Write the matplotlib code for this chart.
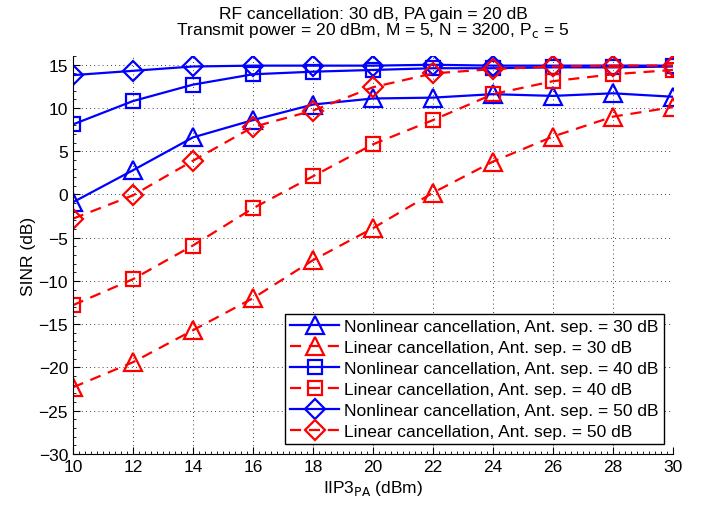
import numpy as np
import matplotlib.pyplot as plt
from matplotlib.ticker import AutoMinorLocator

plt.rcParams['font.family'] = ['Liberation Sans', 'DejaVu Sans']

# IIP3 of the PA (dBm)
iip3 = [10, 12, 14, 16, 18, 20, 22, 24, 26, 28, 30]

# SINR (dB)
nl_30 = [-0.9, 2.8, 6.6, 8.6, 10.4, 11.1, 11.2, 11.6, 11.4, 11.7, 11.3]
lin_30 = [-22.3, -19.4, -15.7, -12.0, -7.6, -3.9, 0.2, 3.8, 6.7, 9.0, 10.1]
nl_40 = [8.1, 10.8, 12.7, 13.9, 14.2, 14.4, 14.6, 14.6, 14.7, 14.7, 14.8]
lin_40 = [-12.8, -9.8, -5.9, -1.6, 2.1, 5.8, 8.6, 11.6, 13.1, 13.9, 14.4]
nl_50 = [13.8, 14.3, 14.8, 14.9, 14.9, 14.9, 15.0, 14.9, 14.9, 14.9, 14.9]
lin_50 = [-2.8, -0.1, 3.9, 7.8, 9.7, 12.4, 14.0, 14.5, 14.8, 14.9, 14.9]

series = [
    (nl_30, 'b-', '^', 'Nonlinear cancellation, Ant. sep. = 30 dB'),
    (lin_30, 'r--', '^', 'Linear cancellation, Ant. sep. = 30 dB'),
    (nl_40, 'b-', 's', 'Nonlinear cancellation, Ant. sep. = 40 dB'),
    (lin_40, 'r--', 's', 'Linear cancellation, Ant. sep. = 40 dB'),
    (nl_50, 'b-', 'D', 'Nonlinear cancellation, Ant. sep. = 50 dB'),
    (lin_50, 'r--', 'D', 'Linear cancellation, Ant. sep. = 50 dB'),
]
msize = {'^': 12.5, 's': 9.5, 'D': 10}
fs = 12.5

fig = plt.figure(figsize=(7.01, 5.10), dpi=100)
ax = fig.add_axes([0.104, 0.108, 0.856, 0.78])

for y, style, m, lab in series:
    ax.plot(iip3, y, style, marker=m, markersize=msize[m], markerfacecolor='none',
            markeredgewidth=1.6, linewidth=1.6, dashes=(5, 3.5) if '--' in style else (None, None),
            label=lab)

ax.set_xlim(10, 30)
ax.set_ylim(-30, 16)
ax.set_xticks(range(10, 31, 2))
ax.set_yticks(range(-30, 16, 5))
ax.xaxis.set_minor_locator(AutoMinorLocator(10))
ax.yaxis.set_minor_locator(AutoMinorLocator(5))
ax.tick_params(which='both', direction='in', labelsize=fs)
ax.tick_params(which='major', length=5)
ax.tick_params(which='minor', length=2.5)
ax.grid(True, linestyle=(0, (1, 4)), color='black', linewidth=0.6)
ax.spines['top'].set_visible(False)
ax.spines['right'].set_visible(False)
ax.set_xlabel('IIP3$_\\mathrm{PA}$ (dBm)', fontsize=fs, labelpad=3)
ax.set_ylabel('SINR (dB)', fontsize=fs, labelpad=2)
ax.set_title('RF cancellation: 30 dB, PA gain = 20 dB\n'
             'Transmit power = 20 dBm, M = 5, N = 3200, P$_\\mathrm{c}$ = 5',
             fontsize=fs, linespacing=0.9, pad=16)

leg = ax.legend(loc='lower right', fontsize=fs, handlelength=2.8, borderpad=0.3,
                labelspacing=0.33, handletextpad=0.3, fancybox=False, framealpha=1,
                bbox_to_anchor=(0.985, 0.025), borderaxespad=0)
leg.get_frame().set_edgecolor('black')
leg.get_frame().set_linewidth(1.0)

fig.savefig('out.png', dpi=100)
